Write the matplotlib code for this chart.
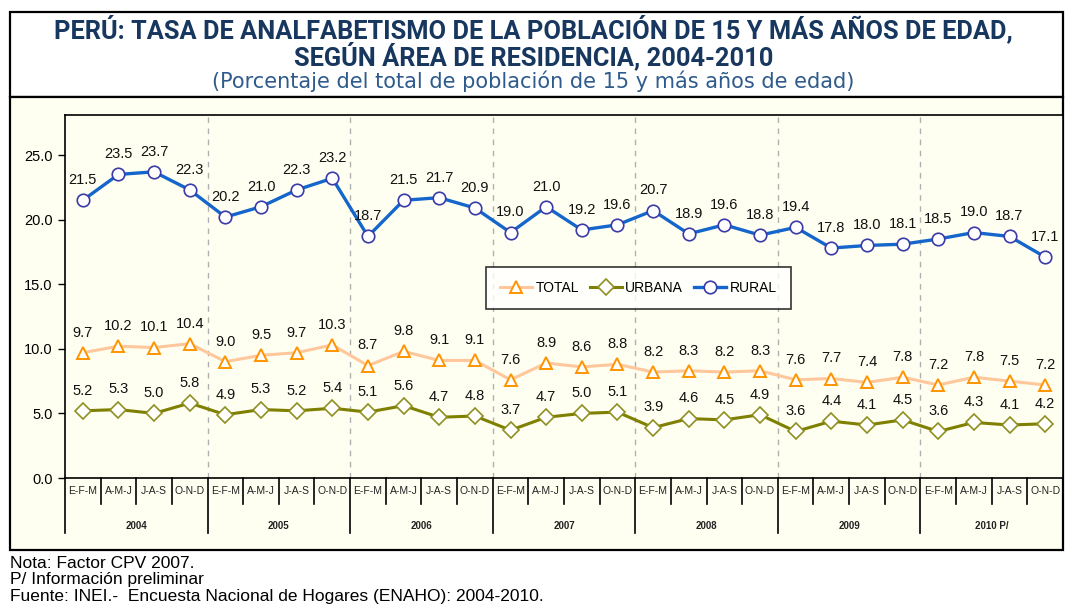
import matplotlib.pyplot as plt
from matplotlib.patches import Rectangle
from matplotlib.lines import Line2D

trimestres = ["E-F-M", "A-M-J", "J-A-S", "O-N-D"]
anios = ["2004", "2005", "2006", "2007", "2008", "2009", "2010 P/"]

rural = [21.5, 23.5, 23.7, 22.3, 20.2, 21.0, 22.3, 23.2, 18.7, 21.5, 21.7, 20.9, 19.0, 21.0,
         19.2, 19.6, 20.7, 18.9, 19.6, 18.8, 19.4, 17.8, 18.0, 18.1, 18.5, 19.0, 18.7, 17.1]
total = [9.7, 10.2, 10.1, 10.4, 9.0, 9.5, 9.7, 10.3, 8.7, 9.8, 9.1, 9.1, 7.6, 8.9,
         8.6, 8.8, 8.2, 8.3, 8.2, 8.3, 7.6, 7.7, 7.4, 7.8, 7.2, 7.8, 7.5, 7.2]
urbana = [5.2, 5.3, 5.0, 5.8, 4.9, 5.3, 5.2, 5.4, 5.1, 5.6, 4.7, 4.8, 3.7, 4.7,
          5.0, 5.1, 3.9, 4.6, 4.5, 4.9, 3.6, 4.4, 4.1, 4.5, 3.6, 4.3, 4.1, 4.2]

W, H = 1067, 606
def fx(px):
    return px / W
def fy(py):
    return 1 - py / H

plt.rcParams['font.family'] = ['Liberation Sans', 'DejaVu Sans']
fig = plt.figure(figsize=(W / 100, H / 100), dpi=100)
fig.patch.set_facecolor('white')

crema = '#FFFFF1'
# marco exterior y panel del grafico (detras de los ejes)
fig.add_artist(Rectangle((fx(10), fy(97)), fx(1063) - fx(10), fy(12) - fy(97),
                         transform=fig.transFigure, facecolor='white', edgecolor='black', lw=1.6,
                         zorder=-5))
fig.add_artist(Rectangle((fx(10), fy(550)), fx(1063) - fx(10), fy(97) - fy(550),
                         transform=fig.transFigure, facecolor=crema, edgecolor='black', lw=1.6,
                         zorder=-5))

titulo_fuente = ['Roboto', 'DejaVu Sans']
fig.text(0.5, fy(29), "PERÚ: TASA DE ANALFABETISMO DE LA POBLACIÓN DE 15 Y MÁS AÑOS DE EDAD,",
         ha='center', va='center', fontsize=18.3, fontweight='bold', color='#17375E', family=titulo_fuente)
fig.text(0.5, fy(56), "SEGÚN ÁREA DE RESIDENCIA, 2004-2010",
         ha='center', va='center', fontsize=18.3, fontweight='bold', color='#17375E', family=titulo_fuente)
fig.text(0.5, fy(81), "(Porcentaje del total de población de 15 y más años de edad)",
         ha='center', va='center', fontsize=15, color='#2E5B8C', family=['DejaVu Sans'])

ax = fig.add_axes([fx(65), fy(478), fx(1063) - fx(65), fy(115) - fy(478)])
ax.set_facecolor(crema)
x = list(range(len(rural)))

ax.plot(x, total, color='#FFC79C', lw=2.2, marker='^', ms=8.5, mfc='white', mec='#FF9400', mew=1.4,
        label='TOTAL', zorder=3)
ax.plot(x, urbana, color='#7F7F00', lw=2.2, marker='D', ms=8, mfc='white', mec='#8F8F20', mew=1.2,
        label='URBANA', zorder=3)
ax.plot(x, rural, color='#1466CC', lw=2.4, marker='o', ms=9, mfc='white', mec='#3A3AA8', mew=1.2,
        label='RURAL', zorder=3)

for serie in (total, urbana, rural):
    for xi, v in zip(x, serie):
        ax.annotate(f"{v:.1f}", (xi, v), xytext=(0, 14.5), textcoords='offset points',
                    ha='center', va='center', fontsize=10.5, color='#111111', zorder=4)

ax.set_xlim(-0.5, len(rural) - 0.5)
ax.set_ylim(0, 28.1)
ax.set_yticks([0, 5, 10, 15, 20, 25])
ax.set_yticklabels([f"{t:.1f}" for t in [0, 5, 10, 15, 20, 25]], fontsize=10.5)
ax.tick_params(axis='y', length=5, width=1, pad=4)
ax.set_xticks([])
for s in ax.spines.values():
    s.set_color('black')
    s.set_linewidth(1.2)

# separadores de anio punteados
for k in range(1, len(anios)):
    ax.axvline(4 * k - 0.5, color='#B0B0B0', lw=1, ls=(0, (4, 4)), zorder=1)

# eje de categorias en dos niveles
tr = ax.get_xaxis_transform()
y_q = -(504 - 478) / 363
y_a = -(533 - 478) / 363
for i in range(len(rural) + 1):
    fin = y_a if i % 4 == 0 else y_q
    ax.add_line(Line2D([i - 0.5, i - 0.5], [0, fin], transform=tr, color='black', lw=1.2, clip_on=False))
for i in range(len(rural)):
    ax.text(i, -(491 - 478) / 363, trimestres[i % 4], transform=tr, ha='center', va='center',
            fontsize=7.5, color='#222222')
for k, a in enumerate(anios):
    ax.text(4 * k + 1.5, -(526 - 478) / 363, a, transform=tr, ha='center', va='center',
            fontsize=7, fontweight='bold', color='#222222')

leg = ax.legend(loc='upper left', bbox_to_anchor=((486 - 65) / 998, (478 - 267) / 363), ncol=3,
                fontsize=10, frameon=True, fancybox=False, handlelength=2.3, columnspacing=0.8,
                handletextpad=0.25, borderpad=1.0, borderaxespad=0)
leg.get_frame().set_edgecolor('black')
leg.get_frame().set_linewidth(1.2)
leg.get_frame().set_facecolor('white')

notas = ["Nota: Factor CPV 2007.", "P/ Información preliminar",
         "Fuente: INEI.-  Encuesta Nacional de Hogares (ENAHO): 2004-2010."]
for j, n in enumerate(notas):
    fig.text(fx(10), fy(563 + 16.5 * j), n, ha='left', va='center', fontsize=12.5, color='black')

fig.savefig('out.png', dpi=100)
